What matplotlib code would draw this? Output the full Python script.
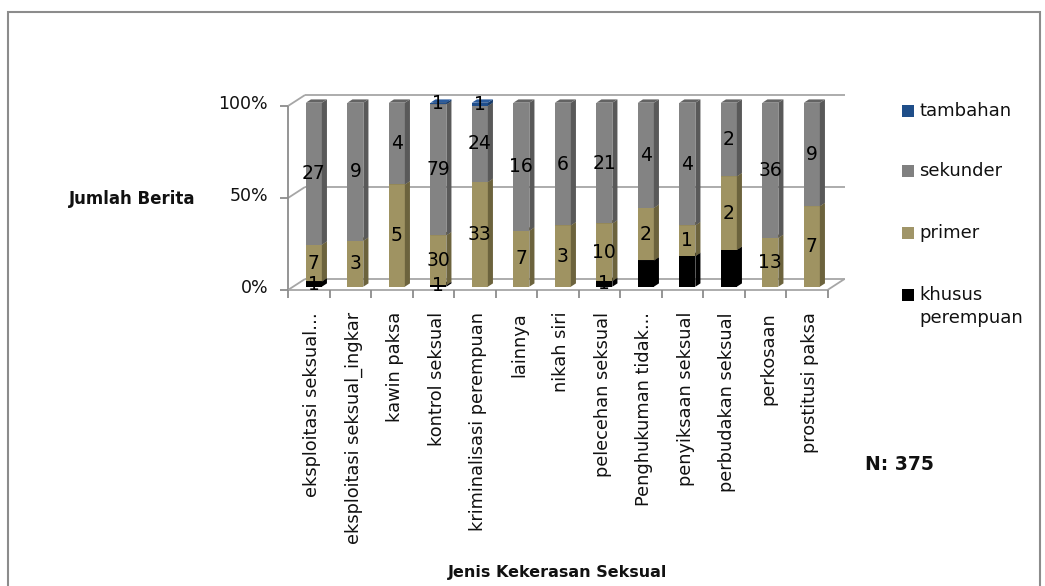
import matplotlib.pyplot as plt
from matplotlib.patches import Polygon, Rectangle

# news counts per type of sexual violence, split by source category
categories = ['eksploitasi seksual…', 'eksploitasi seksual_ingkar', 'kawin paksa',
              'kontrol seksual', 'kriminalisasi perempuan', 'lainnya', 'nikah siri',
              'pelecehan seksual', 'Penghukuman tidak...', 'penyiksaan seksual',
              'perbudakan seksual', 'perkosaan', 'prostitusi paksa']
khusus = [1, 0, 0, 1, 0, 0, 0, 1, 1, 1, 1, 0, 0]
primer = [7, 3, 5, 30, 33, 7, 3, 10, 2, 1, 2, 13, 7]
sekunder = [27, 9, 4, 79, 24, 16, 6, 21, 4, 4, 2, 36, 9]
tambahan = [0, 0, 0, 1, 1, 0, 0, 0, 0, 0, 0, 0, 0]
y_ticks = [0, 50, 100]
legend_names = ['tambahan', 'sekunder', 'primer', 'khusus\nperempuan']

# (front, side, top) colours for each stacked series, bottom to top
stack = [
    (khusus, ('#000000', '#000000', '#141414')),
    (primer, ('#9f9362', '#6c633d', '#877c4f')),
    (sekunder, ('#838383', '#595959', '#636363')),
    (tambahan, ('#1f4e8c', '#173b69', '#2b5c9e')),
]
legend_colors = ['#1f4e89', '#808080', '#a09568', '#000000']
TXT = '#111111'

W, H = 1045, 586
fig = plt.figure(figsize=(W / 100, H / 100), dpi=100)
fig.patch.set_facecolor('white')

# front plane of the 3D box: one unit per category, one unit per percent
PX0, PY0 = 288, 290
CAT_PX, PCT_PX = 41.5, 1.84
ax = fig.add_axes([PX0 / W, 1 - PY0 / H, (860 - PX0) / W, (PY0 - 85) / H])
ax.set_xlim(-0.5, -0.5 + (860 - PX0) / CAT_PX)
ax.set_ylim(0, (PY0 - 85) / PCT_PX)
ax.axis('off')

DX, DY = 17 / CAT_PX, 11 / PCT_PX   # full depth of the box
BAR_D0, BAR_D1 = 0.3, 0.6           # bars sit in the middle of the depth
BW = 16 / CAT_PX
n = len(categories)
x_left, x_right = -0.5, n - 0.5


def P(x, y, d=0.0):
    return (x + d * DX, y + d * DY)


def line(pts, color='#a6a6a6', lw=1.3, z=1):
    ax.plot([p[0] for p in pts], [p[1] for p in pts], color=color, lw=lw,
            solid_capstyle='butt', zorder=z, clip_on=False)


# back wall gridlines and left wall edges
for t in y_ticks:
    line([P(x_left, t, 1), P(x_right, t, 1)])
    line([P(x_left, t, 0), P(x_left, t, 1)])
    line([P(x_left - 8 / CAT_PX, t), P(x_left, t)], color='#8c8c8c')
line([P(x_left, 0), P(x_left, 100)], color='#8c8c8c')

# floor
line([P(x_left, 0), P(x_right, 0)])
line([P(x_right, 0, 0), P(x_right, 0, 1)])
for k in range(n + 1):
    line([P(k - 0.5, 0), P(k - 0.5, -8 / PCT_PX)], color='#8c8c8c')

# stacked 100% bars drawn as boxes
for i in range(n):
    total = sum(vals[i] for vals, _ in stack)
    base = 0.0
    xc = i + BAR_D0 * DX
    for vals, (c_front, c_side, c_top) in stack:
        v = vals[i]
        if v == 0:
            continue
        h = v / total * 100
        y0, y1 = base + BAR_D0 * DY, base + h + BAR_D0 * DY
        xa, xb = xc - BW / 2, xc + BW / 2
        dd = BAR_D1 - BAR_D0
        ax.add_patch(Polygon([(xa, y0), (xb, y0), (xb, y1), (xa, y1)],
                             closed=True, fc=c_front, ec='none', zorder=3))
        ax.add_patch(Polygon([(xb, y0), (xb + dd * DX, y0 + dd * DY),
                              (xb + dd * DX, y1 + dd * DY), (xb, y1)],
                             closed=True, fc=c_side, ec='none', zorder=3))
        ax.add_patch(Polygon([(xa, y1), (xb, y1), (xb + dd * DX, y1 + dd * DY),
                              (xa + dd * DX, y1 + dd * DY)],
                             closed=True, fc=c_top, ec='none', zorder=3))
        ax.text(xc, (y0 + y1) / 2, str(v), ha='center', va='center',
                fontsize=13.5, color='#000000', zorder=5)
        base += h

# value axis labels
for t in y_ticks:
    ax.text(x_left - 20 / CAT_PX, t + 1, f'{t}%', ha='right', va='center',
            fontsize=12.5, color=TXT)

# category labels
for i, name in enumerate(categories):
    ax.text(i + 0.08, -22 / PCT_PX, name, rotation=90, ha='center', va='top',
            fontsize=12.8, color=TXT, clip_on=False)

# axis titles and sample size
fig.text(132 / W, 1 - 199 / H, 'Jumlah Berita', ha='center', va='center',
         fontsize=12, fontweight='bold', color=TXT)
fig.text(558 / W, 1 - 573 / H, 'Jenis Kekerasan Seksual', ha='center', va='center',
         fontsize=11.5, fontweight='bold', color=TXT)
fig.text(865 / W, 1 - 464 / H, 'N: 375', ha='left', va='center',
         fontsize=13.5, fontweight='bold', color=TXT)

# legend
leg_y = [111, 171, 233, 295]
for name, col, yy in zip(legend_names, legend_colors, leg_y):
    fig.add_artist(Rectangle((902 / W, 1 - (yy + 6) / H), 12 / W, 12 / H,
                             transform=fig.transFigure, fc=col, ec='none'))
    fig.text(919 / W, 1 - (yy - 9) / H, name, ha='left', va='top',
             fontsize=13, color=TXT, linespacing=1.35)

# chart border
fig.add_artist(Rectangle((8 / W, -0.05), (1040 - 8) / W, 1.05 - 12 / H,
                         transform=fig.transFigure, fill=False,
                         ec='#8c8c8c', lw=1.5))

plt.savefig('out.png', dpi=100)
